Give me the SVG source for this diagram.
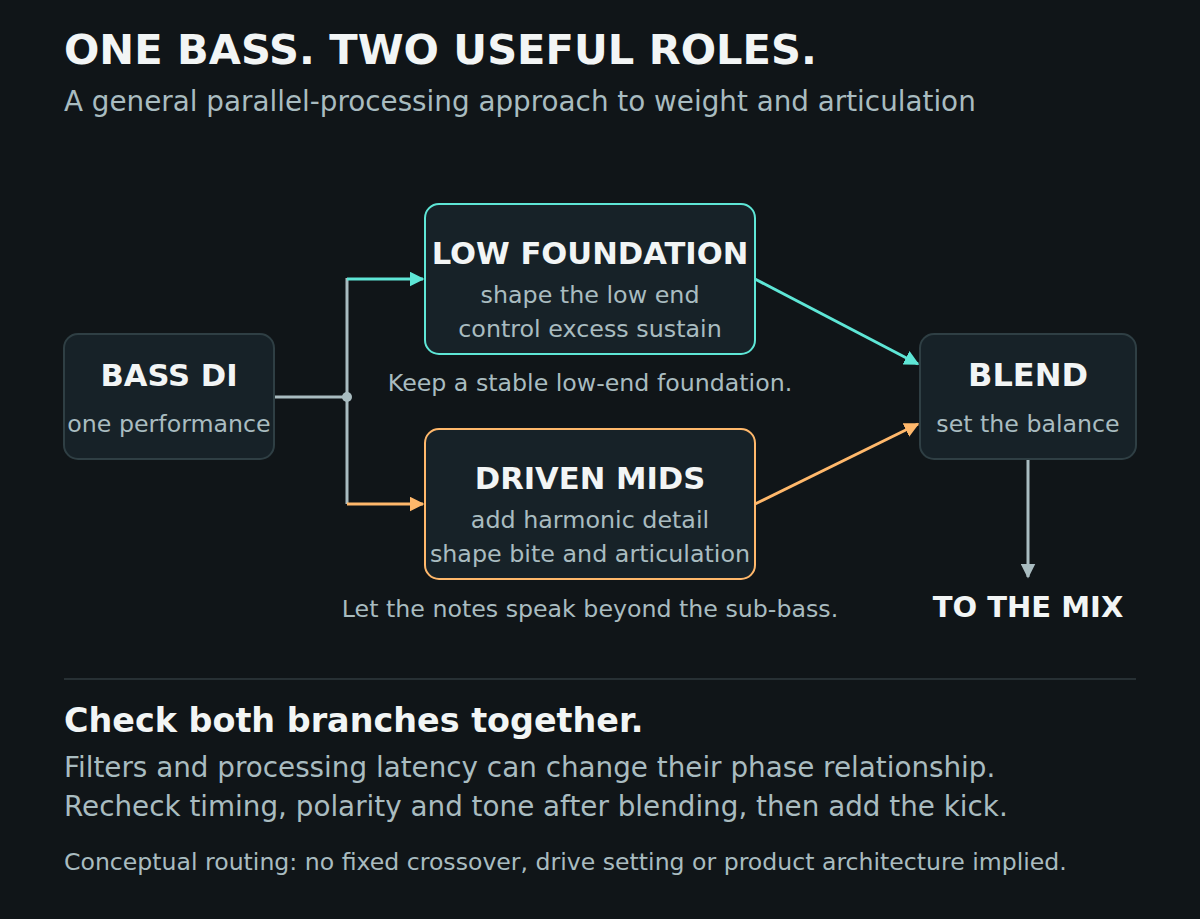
<svg xmlns="http://www.w3.org/2000/svg" width="1200" height="919" viewBox="0 0 1200 919">
<style>
text{font-family:"DejaVu Sans",sans-serif}
.t{fill:#f2f5f5;font-weight:bold}
.m{fill:#a9bcc0}
.c{text-anchor:middle}
.box{fill:#172228;rx:14px}
</style>
<defs>
<marker id="ac" viewBox="0 0 10 10" refX="9" refY="5" markerWidth="5" markerHeight="5" orient="auto"><path d="M0,0L10,5L0,10z" fill="#5ee6d6"/></marker>
<marker id="ao" viewBox="0 0 10 10" refX="9" refY="5" markerWidth="5" markerHeight="5" orient="auto"><path d="M0,0L10,5L0,10z" fill="#ffb86b"/></marker>
<marker id="ag" viewBox="0 0 10 10" refX="9" refY="5" markerWidth="5" markerHeight="5" orient="auto"><path d="M0,0L10,5L0,10z" fill="#a9bcc0"/></marker>
</defs>
<rect width="1200" height="919" fill="#101518"/>
<text x="64" y="64" class="t" font-size="41.6">ONE BASS. TWO USEFUL ROLES.</text>
<text x="64" y="111" class="m" font-size="27.8">A general parallel-processing approach to weight and articulation</text>
<g id="connectors" fill="none" stroke-width="3">
<path d="M274,397H347M347,278V504" stroke="#a9bcc0"/>
<circle cx="347" cy="397" r="5" fill="#a9bcc0" stroke="none"/>
<path d="M347,279H423" stroke="#5ee6d6" marker-end="url(#ac)"/>
<path d="M347,504H423" stroke="#ffb86b" marker-end="url(#ao)"/>
<path d="M755,279L918,364" stroke="#5ee6d6" marker-end="url(#ac)"/>
<path d="M755,504L918,424" stroke="#ffb86b" marker-end="url(#ao)"/>
<path d="M1028,459V577" stroke="#a9bcc0" marker-end="url(#ag)"/>
</g>
<g id="bassdi"><rect x="64" y="334" width="210" height="125" class="box" stroke="#2f3f44" stroke-width="2"/>
<text x="169" y="386" class="t c" font-size="30.6">BASS DI</text><text x="169" y="432" class="m c" font-size="23.7">one performance</text></g>
<g id="low"><rect x="425" y="204" width="330" height="150" class="box" stroke="#5ee6d6" stroke-width="2"/>
<text x="590" y="264" class="t c" font-size="30.6">LOW FOUNDATION</text><text x="590" y="303" class="m c" font-size="23.8">shape the low end</text><text x="590" y="337" class="m c" font-size="23.8">control excess sustain</text></g>
<text x="590" y="391" class="m c" font-size="23.7">Keep a stable low-end foundation.</text>
<g id="mids"><rect x="425" y="429" width="330" height="150" class="box" stroke="#ffb86b" stroke-width="2"/>
<text x="590" y="489" class="t c" font-size="30.6">DRIVEN MIDS</text><text x="590" y="528" class="m c" font-size="23.8">add harmonic detail</text><text x="590" y="562" class="m c" font-size="23.8">shape bite and articulation</text></g>
<text x="590" y="617" class="m c" font-size="23.7">Let the notes speak beyond the sub-bass.</text>
<g id="blend"><rect x="920" y="334" width="216" height="125" class="box" stroke="#2f3f44" stroke-width="2"/>
<text x="1028" y="386" class="t c" font-size="32">BLEND</text><text x="1028" y="432" class="m c" font-size="23.7">set the balance</text></g>
<g id="mix"><text x="1028" y="617" class="t c" font-size="29">TO THE MIX</text></g>
<line x1="64" y1="679" x2="1136" y2="679" stroke="#2f3a3e" stroke-width="1.5"/>
<text x="64" y="732" class="t" font-size="33.4">Check both branches together.</text>
<text x="64" y="777" class="m" font-size="27.8">Filters and processing latency can change their phase relationship.</text>
<text x="64" y="816" class="m" font-size="27.8">Recheck timing, polarity and tone after blending, then add the kick.</text>
<text x="64" y="870" class="m" font-size="23.6">Conceptual routing: no fixed crossover, drive setting or product architecture implied.</text>
</svg>
